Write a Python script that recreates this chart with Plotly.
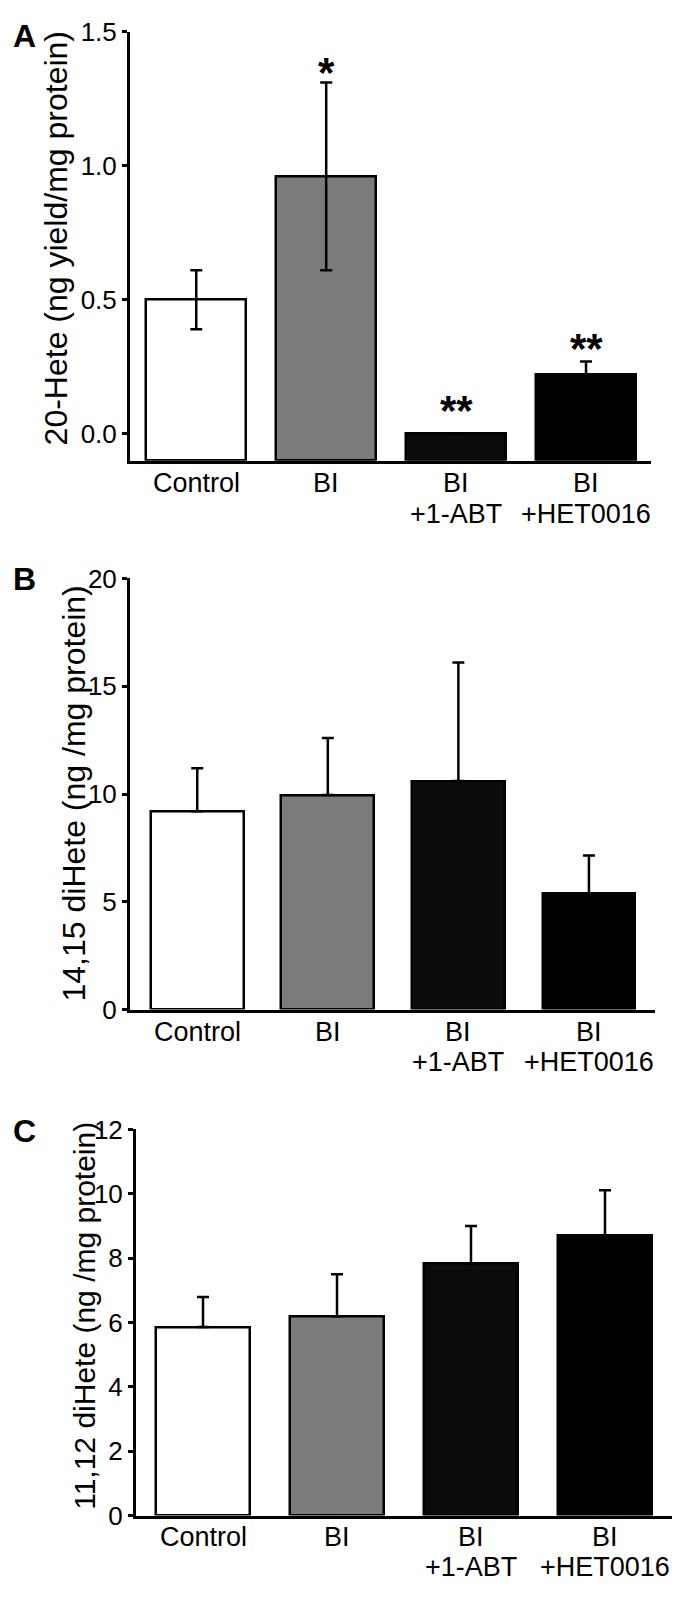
import plotly.graph_objects as go

# Positions below are pixels of the final 696x1605 picture.
# Earlier renders: the photographed page is squeezed vertically
# (picture_y ~= 14 + 0.958 * page_y) and the page body keeps its 8px margin,
# so y targets are mapped back into figure pixels.
PAGE_OFF = 8
RY_OFF, RY_S = 14.0, 0.958
W, H = 696 - 2 * PAGE_OFF, 1605 - 2 * PAGE_OFF
FONT = "Liberation Sans, Arial, sans-serif"

groups = ["Control", "BI", "BI", "BI"]
groups_line2 = ["", "", "+1-ABT", "+HET0016"]
bar_colors = ["#ffffff", "#7b7b7b", "#0b0b0b", "#000000"]

hete20 = [0.50, 0.96, 0.0, 0.22]
hete20_err = [0.11, 0.35, 0.0, 0.05]
hete20_stars = ["", "*", "**", "**"]
hete20_star_y = [None, 1.38, 0.12, 0.35]

dihete1415 = [9.2, 9.95, 10.6, 5.4]
dihete1415_err = [2.0, 2.65, 5.5, 1.75]

dihete1112 = [5.86, 6.19, 7.83, 8.71]
dihete1112_err = [0.93, 1.31, 1.17, 1.40]


def fx(px):
    return (px - PAGE_OFF + 2) / W


def fy(py):
    page = (py - RY_OFF) / RY_S
    return 1 - (page - PAGE_OFF) / H


panels = [
    dict(letter="A", vals=hete20, err=hete20_err, sym=True,
         title="20-Hete (ng yield/mg protein)", title_size=32,
         x0=128, x1=649, y0=30, y1=449, yr=[-0.1, 1.5], xr=[-0.51, 3.5], bw=0.77,
         tickvals=[0, 0.5, 1.0, 1.5], ticktext=["0.0", "0.5", "1.0", "1.5"],
         title_x=54, title_y=232, letter_y=34, lab_y=[471, 501]),
    dict(letter="B", vals=dihete1415, err=dihete1415_err, sym=False,
         title="14,15 diHete (ng /mg protein)", title_size=32,
         x0=128, x1=653, y0=564, y1=985, yr=[0, 20], xr=[-0.515, 3.506], bw=0.71,
         tickvals=[0, 5, 10, 15, 20], ticktext=["0", "5", "10", "15", "20"],
         title_x=72, title_y=774, letter_y=565, lab_y=[1007, 1036]),
    dict(letter="C", vals=dihete1112, err=dihete1112_err, sym=False,
         title="11,12 diHete (ng /mg protein)", title_size=30,
         x0=134, x1=670, y0=1102, y1=1479, yr=[0, 12], xr=[-0.5, 3.5], bw=0.70,
         tickvals=[0, 2, 4, 6, 8, 10, 12], ticktext=["0", "2", "4", "6", "8", "10", "12"],
         title_x=83, title_y=1284, letter_y=1104, lab_y=[1500, 1529]),
]

fig = go.Figure()
annotations = []
xs = list(range(len(groups)))

for i, p in enumerate(panels, start=1):
    xa = "x" if i == 1 else f"x{i}"
    ya = "y" if i == 1 else f"y{i}"
    base = p["yr"][0]
    if p["sym"]:
        err = dict(type="data", array=p["err"], symmetric=True,
                   color="black", thickness=2.5, width=6)
    else:
        err = dict(type="data", array=p["err"], arrayminus=[0] * len(p["err"]),
                   symmetric=False, color="black", thickness=2.5, width=6)
    fig.add_trace(go.Bar(
        x=xs, y=[v - base for v in p["vals"]], base=base,
        width=p["bw"], xaxis=xa, yaxis=ya,
        marker=dict(color=bar_colors, line=dict(color="black", width=2.5)),
        error_y=err, showlegend=False,
    ))
    axis_kw = dict(
        showline=True, linecolor="black", linewidth=3, showgrid=False,
        zeroline=False, mirror=False,
    )
    fig.update_layout(**{
        ("xaxis" if i == 1 else f"xaxis{i}"): dict(
            domain=[fx(p["x0"]), fx(p["x1"])], anchor=ya, range=p["xr"],
            tickvals=xs, showticklabels=False, ticks="",
            **axis_kw),
        ("yaxis" if i == 1 else f"yaxis{i}"): dict(
            domain=[fy(p["y1"]), fy(p["y0"])], anchor=xa, range=p["yr"],
            tickvals=p["tickvals"], ticktext=p["ticktext"],
            ticks="outside", ticklen=5, tickwidth=2.5, tickcolor="black",
            tickfont=dict(family=FONT, size=26, color="black"),
            **axis_kw),
    })
    # category labels, one or two lines under each bar
    for k, (t1, t2) in enumerate(zip(groups, groups_line2)):
        for t, ly in zip([t1, t2], p["lab_y"]):
            if t:
                annotations.append(dict(
                    x=k, xref=xa, y=fy(ly), yref="paper",
                    text=t, showarrow=False, yanchor="middle",
                    font=dict(family=FONT, size=27, color="black")))
    # y-axis title
    annotations.append(dict(
        x=fx(p["title_x"]), y=fy(p["title_y"]), xref="paper", yref="paper",
        text=p["title"], textangle=-90, showarrow=False,
        xanchor="center", yanchor="middle",
        font=dict(family=FONT, size=p["title_size"], color="black")))
    # panel letter
    annotations.append(dict(
        x=fx(8.5), y=fy(p["letter_y"]), xref="paper", yref="paper",
        text=f"<b>{p['letter']}</b>", showarrow=False,
        xanchor="left", yanchor="middle",
        font=dict(family=FONT, size=32, color="black")))

# significance stars on panel A
for k, (s, sy) in enumerate(zip(hete20_stars, hete20_star_y)):
    if s:
        annotations.append(dict(
            x=k, y=sy, xref="x", yref="y", text=f"<b>{s}</b>",
            showarrow=False, yanchor="middle", yshift=-9,
            font=dict(family=FONT, size=42, color="black")))

fig.update_layout(
    width=W, height=H,
    margin=dict(l=0, r=0, t=0, b=0),
    paper_bgcolor="white", plot_bgcolor="white",
    bargap=0, annotations=annotations,
)

fig.write_html("out.html")
